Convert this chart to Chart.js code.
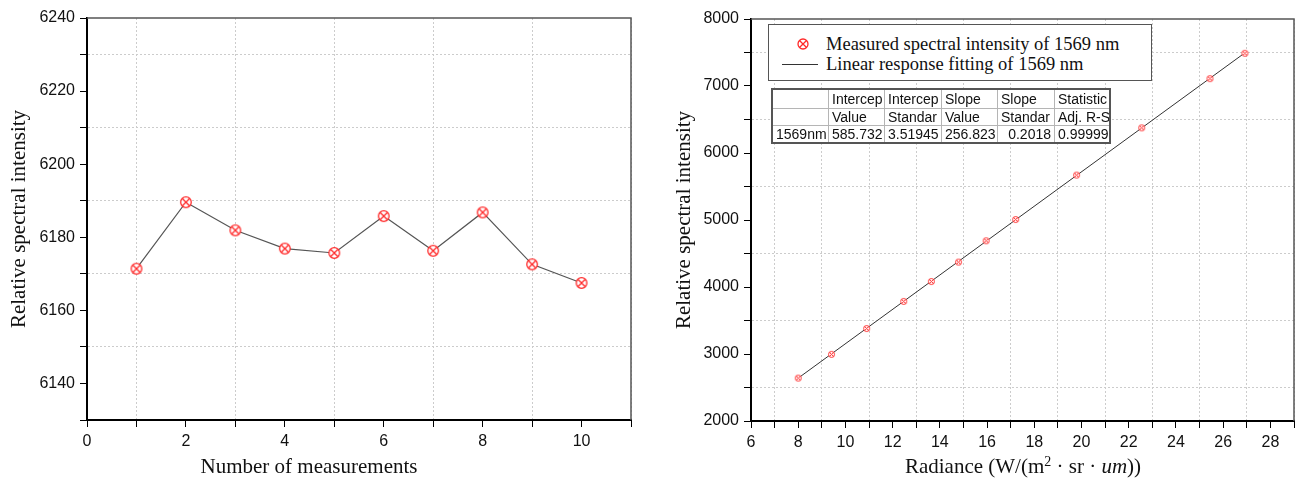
<!DOCTYPE html>
<html>
<head>
<meta charset="utf-8">
<script src="https://cdn.jsdelivr.net/npm/chart.js@4.4.1/dist/chart.umd.min.js"></script>
<style>
  body { margin: 0; background: #fff; width: 1299px; height: 479px; position: relative; overflow: hidden; }
  canvas.chart { position: absolute; top: 0; }
  #leftChart { left: 0; }
  #rightChart { left: 650px; }
  .xtitle { position: absolute; top: 454px; line-height: 24px; font-family: 'Liberation Serif', 'Times New Roman', serif; font-size: 21px; color: #111; white-space: nowrap; transform: translateX(-50%); }
  .xtitle sup { font-size: 14px; vertical-align: 7px; line-height: 0; }
  #legendBox { position: absolute; left: 768px; top: 24px; width: 384px; height: 57px; border: 1.5px solid #555; box-sizing: border-box; background: #fff; font-family: 'Liberation Serif', 'Times New Roman', serif; font-size: 18.5px; color: #111; }
  #legendBox .item { position: absolute; left: 57px; line-height: 20px; white-space: nowrap; }
  #legendBox .sample { position: absolute; }
  #fitTable { position: absolute; left: 771px; top: 88px; border-collapse: collapse; border: 2px solid #555; background: #fff; font-family: 'Liberation Sans', Arial, sans-serif; font-size: 14px; color: #111; }
  #fitTable td { border: 1px solid #b5b5b5; padding: 0 3px; white-space: nowrap; overflow: hidden; }
  #fitTable td.num { text-align: right; }
</style>
</head>
<body>
<canvas id="leftChart" class="chart" width="645" height="479"></canvas>
<canvas id="rightChart" class="chart" width="649" height="479"></canvas>
<div class="xtitle" id="leftXTitle" style="left:309px"></div>
<div class="xtitle" id="rightXTitle" style="left:1023px">Radiance (W/(m<sup>2</sup> · sr · <i>um</i>))</div>
<div id="legendBox"></div>
<table id="fitTable"></table>
<script>
// left panel: repeatability
const measureNo = [1, 2, 3, 4, 5, 6, 7, 8, 9, 10];
const measureIntensity = [6171.4, 6189.6, 6181.9, 6176.9, 6175.7, 6185.8, 6176.3, 6186.8, 6172.6, 6167.5];

// right panel: linearity
const radiance = [8.0, 9.41, 10.9, 12.47, 13.64, 14.79, 15.96, 17.21, 19.79, 22.55, 25.44, 26.92];
const radianceIntensity = [2640, 2995, 3380, 3785, 4082, 4372, 4690, 5007, 5670, 6375, 7110, 7488];
const fitX = [8.0, 26.92];
const fitY = [2640, 7495];

const legendLabels = ['Measured spectral intensity of 1569 nm', 'Linear response fitting of 1569 nm'];
const tableHead1 = ['', 'Intercep', 'Intercep', 'Slope', 'Slope', 'Statistic'];
const tableHead2 = ['', 'Value', 'Standar', 'Value', 'Standar', 'Adj. R-S'];
const tableRow = ['1569nm', '585.732', '3.51945', '256.823', '0.2018', '0.99999'];

const yTitle = 'Relative spectral intensity';
const leftXTitle = 'Number of measurements';

// circle with a cross inside
function makeMarker(r, lw) {
    const c = document.createElement('canvas');
    const s = Math.ceil(2 * r + lw + 2);
    c.width = s; c.height = s;
    const g = c.getContext('2d');
    const m = s / 2;
    g.fillStyle = '#fff';
    g.strokeStyle = '#ff2a2a';
    g.lineWidth = lw;
    g.beginPath(); g.arc(m, m, r, 0, Math.PI * 2); g.fill(); g.stroke();
    const d = r * Math.SQRT1_2;
    g.beginPath();
    g.moveTo(m - d, m - d); g.lineTo(m + d, m + d);
    g.moveTo(m + d, m - d); g.lineTo(m - d, m + d);
    g.stroke();
    return c;
}

const frame = {
    id: 'frame',
    afterDraw(chart) {
        const { ctx, chartArea: a } = chart;
        ctx.save();
        ctx.strokeStyle = '#555';
        ctx.lineWidth = 1.5;
        ctx.beginPath();
        ctx.moveTo(a.left, a.top);
        ctx.lineTo(a.right, a.top);
        ctx.lineTo(a.right, a.bottom);
        ctx.stroke();
        ctx.restore();
    }
};

const tickFont = { family: "'Liberation Sans', Arial, sans-serif", size: 16 };
const titleFont = { family: "'Liberation Serif', 'Times New Roman', serif", size: 21 };

function axis(min, max, step, labelEvery, width, height) {
    return {
        type: 'linear',
        min: min,
        max: max,
        afterFit: s => { if (width) s.width = width; if (height) s.height = height; },
        ticks: {
            stepSize: step,
            autoSkip: false,
            maxRotation: 0,
            color: '#111',
            font: tickFont,
            padding: 5,
            callback: v => (Math.round(v) % labelEvery === 0 ? String(v) : '')
        },
        grid: {
            color: c => (c.tick && Math.round(c.tick.value) % labelEvery !== 0 ? '#cccccc' : 'rgba(0,0,0,0)'),
            lineWidth: 1,
            tickColor: '#000',
            tickLength: 7
        },
        border: { color: '#000', width: 2, dash: [2, 2] }
    };
}

Chart.defaults.animation = false;

const leftX = axis(0, 11, 1, 2, 0, 59);
const leftY = axis(6130, 6240, 10, 20, 87, 0);
leftY.title = { display: true, text: yTitle, font: titleFont, color: '#111', padding: { top: 7, bottom: 0 } };

new Chart(document.getElementById('leftChart'), {
    type: 'scatter',
    data: {
        datasets: [{
            data: measureNo.map((x, i) => ({ x: x, y: measureIntensity[i] })),
            showLine: true,
            borderColor: '#555',
            borderWidth: 1.2,
            pointStyle: makeMarker(5.3, 1.3),
            pointRadius: 6
        }]
    },
    options: {
        responsive: false,
        layout: { padding: { left: 0, top: 18, right: 14, bottom: 0 } },
        plugins: { legend: { display: false }, tooltip: { enabled: false } },
        scales: { x: leftX, y: leftY }
    },
    plugins: [frame]
});

const rightX = axis(6, 29, 1, 2, 0, 58);
const rightY = axis(2000, 8000, 500, 1000, 101, 0);
rightY.title = { display: true, text: yTitle, font: titleFont, color: '#111', padding: { top: 22, bottom: 0 } };

new Chart(document.getElementById('rightChart'), {
    type: 'scatter',
    data: {
        datasets: [{
            label: legendLabels[0],
            data: radiance.map((x, i) => ({ x: x, y: radianceIntensity[i] })),
            pointStyle: makeMarker(3, 1),
            pointRadius: 4
        }, {
            label: legendLabels[1],
            data: fitX.map((x, i) => ({ x: x, y: fitY[i] })),
            showLine: true,
            borderColor: '#333',
            borderWidth: 1,
            pointRadius: 0
        }]
    },
    options: {
        responsive: false,
        layout: { padding: { left: 0, top: 19, right: 3, bottom: 0 } },
        plugins: { legend: { display: false }, tooltip: { enabled: false } },
        scales: { x: rightX, y: rightY }
    },
    plugins: [frame]
});

document.getElementById('leftXTitle').textContent = leftXTitle;

// legend box
const legendBox = document.getElementById('legendBox');
const mk = makeMarker(5, 1.3);
mk.className = 'sample';
mk.style.left = (34 - mk.width / 2) + 'px';
mk.style.top = (19 - mk.height / 2) + 'px';
legendBox.appendChild(mk);
const ln = document.createElement('div');
ln.className = 'sample';
ln.style.cssText = 'left:13px;top:39px;width:36px;height:0;border-top:1px solid #333;';
legendBox.appendChild(ln);
legendLabels.forEach((t, i) => {
    const d = document.createElement('div');
    d.className = 'item';
    d.style.top = (9 + i * 20) + 'px';
    d.textContent = t;
    legendBox.appendChild(d);
});

// fit table
const colWidths = [56, 56, 57, 56, 57, 55];
const rowHeights = [19, 17, 18];
const table = document.getElementById('fitTable');
[tableHead1, tableHead2, tableRow].forEach((row, r) => {
    const tr = document.createElement('tr');
    tr.style.height = rowHeights[r] + 'px';
    row.forEach((t, c) => {
        const td = document.createElement('td');
        td.textContent = t;
        td.style.width = (colWidths[c] - 7) + 'px';
        td.style.maxWidth = (colWidths[c] - 7) + 'px';
        if (r === 2) td.className = 'num';
        tr.appendChild(td);
    });
    table.appendChild(tr);
});
</script>
</body>
</html>
